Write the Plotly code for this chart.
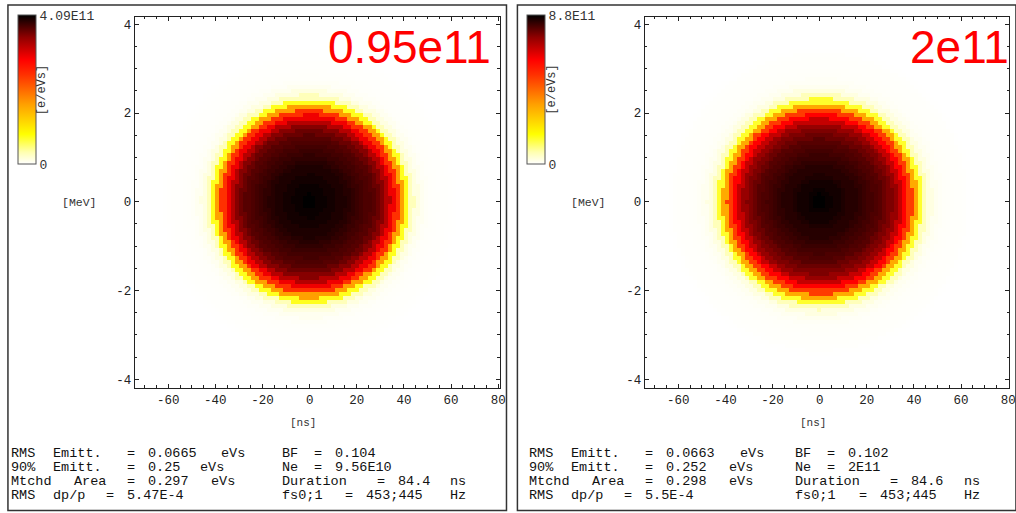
import re
import numpy as np
import plotly.graph_objects as go

W, H = 1016, 513

# ---------------- data ----------------
# normalised radius of the phase-space blob and relative density (fraction of max)
radius_steps = [0.00, 0.05, 0.10, 0.15, 0.20, 0.25, 0.30, 0.35, 0.40, 0.45, 0.50,
                0.55, 0.60, 0.65, 0.70, 0.75, 0.80, 0.85, 0.90, 0.95, 1.00, 1.05,
                1.10, 1.15, 1.20, 1.25, 1.30, 1.35, 1.40, 1.45, 1.50, 1.55, 1.60]
density_left = [1.00, 1.00, 0.99, 0.99, 0.98, 0.98, 0.97, 0.97, 0.96, 0.95, 0.94,
                0.93, 0.92, 0.91, 0.89, 0.86, 0.80, 0.72, 0.60, 0.40, 0.18, 0.07,
                0.03, 0.015, 0.008, 0.005, 0.004, 0.003, 0.003, 0.002, 0.001, 0.0, 0.0]
density_right = [1.00, 1.00, 0.99, 0.98, 0.98, 0.97, 0.96, 0.96, 0.95, 0.94, 0.93,
                 0.92, 0.91, 0.89, 0.87, 0.84, 0.78, 0.70, 0.58, 0.38, 0.17, 0.07,
                 0.03, 0.015, 0.009, 0.006, 0.005, 0.004, 0.004, 0.003, 0.001, 0.0, 0.0]
blob_half_width_ns = [41.0, 42.5]      # where density reaches the yellow edge
blob_half_height_mev = [2.25, 2.28]

zmax_values = [4.09e11, 8.8e11]
zmax_labels = ["4.09E11", "8.8E11"]
big_labels = ["0.95e11", "2e11"]

x_tick_vals = [-60, -40, -20, 0, 20, 40, 60, 80]
x_tick_text = ["-60", "-40", "-20", "0", "20", "40", "60", "80"]
y_tick_vals = [-4, -2, 0, 2, 4]
y_tick_text = ["-4", "-2", "0", "2", "4"]

stats_left_col = [
    ["RMS Emitt. = 0.0665 eVs", "90% Emitt. = 0.25 eVs", "Mtchd Area = 0.297 eVs", "RMS dp/p = 5.47E-4"],
    ["RMS Emitt. = 0.0663 eVs", "90% Emitt. = 0.252 eVs", "Mtchd Area = 0.298 eVs", "RMS dp/p = 5.5E-4"],
]
stats_right_col = [
    ["BF = 0.104", "Ne = 9.56E10", "Duration = 84.4 ns", "fs0;1 = 453;445 Hz"],
    ["BF = 0.102", "Ne = 2E11", "Duration = 84.6 ns", "fs0;1 = 453;445 Hz"],
]

# ---------------- layout constants (pixels) ----------------
x_range = [-74.2, 80.7]
y_range = [-4.19, 4.17]
panel_dx = 513.6
plot_l, plot_r, plot_t, plot_b = 135.7, 503.3, 16.7, 387.7

colorscale = [
    [0.0, "#ffffff"], [0.08, "#ffffb0"], [0.2, "#ffff00"], [0.4, "#ffa000"],
    [0.6, "#ff3000"], [0.7, "#ff0000"], [0.85, "#900000"], [1.0, "#000000"],
]

mono = "Liberation Mono, Courier New, monospace"

fig = go.Figure()

# grid of cells
xs = np.arange(-75.0, 81.5, 1.7)
ys = np.arange(-4.25, 4.3, 0.09)
XX, YY = np.meshgrid(xs, ys)
n_steps = len(radius_steps)

profiles = [density_left, density_right]
for i in range(2):
    rr = np.sqrt((XX / blob_half_width_ns[i]) ** 2 + (YY / blob_half_height_mev[i]) ** 2)
    idx = np.clip(np.round(rr / 0.05).astype(int), 0, n_steps - 1)
    z = np.array(profiles[i])[idx] * zmax_values[i]
    suffix = "" if i == 0 else "2"
    fig.add_trace(go.Heatmap(
        x=xs, y=ys, z=z, coloraxis="coloraxis" + suffix,
        xaxis="x" + suffix, yaxis="y" + suffix, hoverinfo="skip",
    ))

# axes
x_right_range = [x_range[0], x_range[0] + (W - (plot_l + panel_dx)) * (x_range[1] - x_range[0]) / (plot_r - plot_l)]
axis_common = dict(
    showline=True, linecolor="#222", linewidth=1, mirror="allticks",
    ticks="inside", ticklen=4, tickcolor="#222", showgrid=False, zeroline=False,
    ticklabeloverflow="allow",
    tickfont=dict(family=mono, size=12.5, color="#222"),
)
minor_x = dict(dtick=5, ticks="inside", ticklen=2.5, tickcolor="#222")
minor_y = dict(dtick=0.5, ticks="inside", ticklen=2.5, tickcolor="#222")
fig.update_layout(
    xaxis=dict(domain=[plot_l / W, plot_r / W], range=x_range, anchor="y",
               tickvals=x_tick_vals, ticktext=x_tick_text, minor=minor_x, **axis_common),
    yaxis=dict(domain=[1 - plot_b / H, 1 - plot_t / H], range=y_range, anchor="x",
               tickvals=y_tick_vals, ticktext=y_tick_text, minor=minor_y, **axis_common),
    xaxis2=dict(domain=[(plot_l + panel_dx) / W, 1.0], range=x_right_range, anchor="y2",
                tickvals=x_tick_vals, ticktext=x_tick_text, minor=minor_x, **axis_common),
    yaxis2=dict(domain=[1 - plot_b / H, 1 - plot_t / H], range=y_range, anchor="x2",
                tickvals=y_tick_vals, ticktext=y_tick_text, minor=minor_y, **axis_common),
)

bar_x = [17.7, 530.7]
for i in range(2):
    cb = dict(
        x=bar_x[i] / W, xanchor="left", xpad=0, y=1 - 15 / H, yanchor="top", ypad=0,
        lenmode="pixels", len=149, thicknessmode="pixels", thickness=18,
        outlinewidth=1, outlinecolor="#555", ticks="",
        tickvals=[0, zmax_values[i]], ticktext=["0", zmax_labels[i]],
        tickfont=dict(family=mono, size=13, color="#333"),
    )
    ca = dict(colorscale=colorscale, cmin=0, cmax=zmax_values[i], colorbar=cb)
    if i == 0:
        fig.update_layout(coloraxis=ca)
    else:
        fig.update_layout(coloraxis2=ca)

annotations = []
shapes = []
panel_border_x = [(8, 510), (521, 1023)]
char_pitch = 10.6
stat_font = dict(family=mono, size=13.5, color="#111")


def add_line(text, x0, yc):
    # place each word on the reference's (wide) monospace character grid
    for m in re.finditer(r"\S+", text):
        annotations.append(dict(xref="paper", yref="paper",
                                x=(x0 + m.start() * char_pitch) / W, y=1 - yc / H,
                                xanchor="left", yanchor="middle", text=m.group(0),
                                showarrow=False, borderpad=0, font=stat_font))


for i in range(2):
    off = 0 if i == 0 else 1
    dx = panel_dx * off
    # frame
    shapes.append(dict(type="rect", xref="paper", yref="paper",
                       x0=panel_border_x[i][0] / W, x1=panel_border_x[i][1] / W,
                       y0=1 - 510.5 / H, y1=1 - 5 / H,
                       line=dict(color="#333", width=1.5)))
    # colorbar unit label
    annotations.append(dict(xref="paper", yref="paper", x=(42.5 + 513 * off) / W, y=1 - 90 / H,
                            xanchor="center", yanchor="middle",
                            text="[e/eVs]", textangle=-90, showarrow=False,
                            font=dict(family=mono, size=12, color="#333")))
    # axis titles
    annotations.append(dict(xref="paper", yref="paper", x=(80 + 513 * off) / W, y=1 - 203 / H,
                            xanchor="center", yanchor="middle",
                            text="[MeV]", showarrow=False,
                            font=dict(family=mono, size=11.5, color="#333")))
    annotations.append(dict(xref="paper", yref="paper", x=(305.5 + dx) / W, y=1 - 423 / H,
                            xanchor="center", yanchor="middle",
                            text="[ns]", showarrow=False,
                            font=dict(family=mono, size=11, color="#333")))
    # big red label
    annotations.append(dict(xref="paper", yref="paper", x=(496 if i == 0 else 1018) / W, y=1 - 47 / H,
                            xanchor="right", yanchor="middle", text=big_labels[i], showarrow=False,
                            font=dict(family="Liberation Sans, Arial", size=46, color="#ff0000")))
    # statistics text
    left_x = [10, 531.7][i]
    right_x = [283, 800][i]
    line_y = [453.3, 467.3, 481.3, 495.3]
    for k in range(4):
        add_line(stats_left_col[i][k], left_x, line_y[k])
        add_line(stats_right_col[i][k], right_x, line_y[k])

fig.update_layout(
    width=W, height=H, margin=dict(l=0, r=0, t=0, b=0),
    paper_bgcolor="white", plot_bgcolor="white", showlegend=False,
    annotations=annotations, shapes=shapes,
)

fig.write_html("out.html")
